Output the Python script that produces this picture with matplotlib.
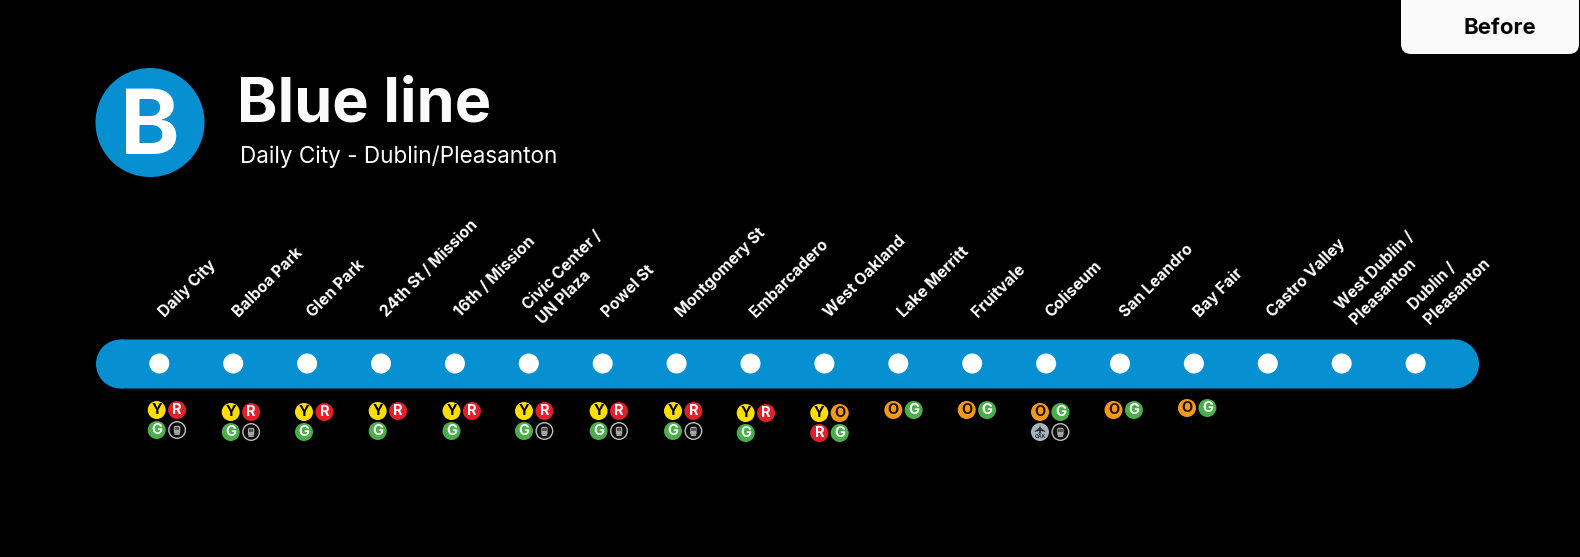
import matplotlib
matplotlib.use("Agg")
import matplotlib.pyplot as plt
from matplotlib.patches import Circle, FancyBboxPatch, Polygon, Rectangle

W, H = 1580, 557
FONT = ["Inter", "Roboto", "DejaVu Sans"]
plt.rcParams["font.family"] = FONT

# ---- content ----
TITLE = "Blue line"
SUBTITLE = "Daily City - Dublin/Pleasanton"
LINE_LETTER = "B"
BUTTON = "Before"
stations = ["Daily City", "Balboa Park", "Glen Park", "24th St / Mission", "16th / Mission",
            "Civic Center /\nUN Plaza", "Powel St", "Montgomery St", "Embarcadero", "West Oakland",
            "Lake Merritt", "Fruitvale", "Coliseum", "San Leandro", "Bay Fair", "Castro Valley",
            "West Dublin /\nPleasanton", "Dublin /\nPleasanton"]
services = [["Y", "R", "G", "train"], ["Y", "R", "G", "train"], ["Y", "R", "G"], ["Y", "R", "G"],
            ["Y", "R", "G"], ["Y", "R", "G", "train"], ["Y", "R", "G", "train"], ["Y", "R", "G", "train"],
            ["Y", "R", "G"], ["Y", "O", "R", "G"], ["O", "G"], ["O", "G"], ["O", "G", "plane", "train"],
            ["O", "G"], ["O", "G"], [], [], []]

# ---- layout (pixels) ----
BLUE = "#0690D2"
STATION_X0, STATION_DX, LINE_Y = 159.3, 73.9, 363.5
badge_dx = [-2.6, -2.5, -3.1, -3.3, -3.4, -4.8, -4.1, -3.6, -4.8, -5.1, -5, -5.5, -6.1, -6.5, -6.9, 0, 0, 0]
badge_y = [410, 412, 412, 411, 411, 411, 411, 411, 413, 413, 410, 410, 412, 410, 408, 0, 0, 0]
BADGE_COLORS = {"Y": ("#FFDD00", "#000000"), "R": ("#E2202C", "#FFFFFF"),
                "G": ("#4BAE4A", "#FFFFFF"), "O": ("#F3981C", "#1A1000")}

fig = plt.figure(figsize=(W / 100, H / 100), dpi=100, facecolor="black")
ax = fig.add_axes([0, 0, 1, 1])
ax.set_xlim(0, W)
ax.set_ylim(H, 0)
ax.axis("off")


def train_icon(cx, cy, color):
    ax.add_patch(FancyBboxPatch((cx - 3.2, cy - 4.2), 6.4, 8, boxstyle="round,pad=0,rounding_size=1.5",
                                fc=color, ec="none", zorder=5))
    ax.add_patch(Rectangle((cx - 2.2, cy - 2.8), 4.4, 2.8, fc="#555555", ec="none", zorder=6))
    ax.add_patch(Polygon([(cx - 3, cy + 5), (cx + 3, cy + 5), (cx + 2, cy + 3.6), (cx - 2, cy + 3.6)],
                         fc=color, ec="none", zorder=5))


def plane_icon(cx, cy):
    d = "#2A2F33"
    ax.add_patch(Polygon([(cx, cy - 6.5), (cx + 1, cy - 4), (cx + 5.2, cy - 1), (cx + 5.2, cy), (cx + 1, cy - 1.2),
                          (cx + 0.8, cy + 0.5), (cx + 2, cy + 1.5), (cx - 2, cy + 1.5), (cx - 0.8, cy + 0.5),
                          (cx - 1, cy - 1.2), (cx - 5.2, cy), (cx - 5.2, cy - 1), (cx - 1, cy - 4)],
                         fc=d, ec="none", zorder=5))
    ax.text(cx, cy + 4.6, "OAK", color=d, fontsize=3.6, fontweight="bold", ha="center", va="center", zorder=6)


def badge(cx, cy, kind):
    r = 9
    if kind == "train":
        ax.add_patch(Circle((cx, cy), r - 0.7, fc="#0C0C0C", ec="#BDBDBD", lw=1.0, zorder=4))
        train_icon(cx, cy, "#A6A6A6")
    elif kind == "plane":
        ax.add_patch(Circle((cx, cy), r, fc="#A9B3BA", ec="none", zorder=4))
        plane_icon(cx, cy)
    else:
        fc, tc = BADGE_COLORS[kind]
        ax.add_patch(Circle((cx, cy), r, fc=fc, ec="none", zorder=4))
        ax.text(cx, cy + 0.3, kind, color=tc, fontsize=10.5, fontweight="bold", ha="center", va="center", zorder=5)


# header
ax.add_patch(Circle((150, 122.5), 54.5, fc=BLUE, ec="none"))
ax.text(150, 121.5, LINE_LETTER, color="white", fontsize=65, fontweight="bold", ha="center", va="center_baseline")
ax.text(237, 122, TITLE, color="#FAFAFA", fontsize=44.2, fontweight="bold", ha="left", va="baseline")
ax.text(239.5, 163, SUBTITLE, color="#FAFAFA", fontsize=16.2, ha="left", va="baseline")

# button
ax.add_patch(FancyBboxPatch((1401, -20), 178, 74, boxstyle="round,pad=0,rounding_size=10",
                            fc="#FAFAFA", ec="none"))
ax.text(1500, 26.5, BUTTON, color="#050505", fontsize=16, fontweight="bold", ha="center", va="center_baseline")

# line band: straight body with two round ends
BAND_L, BAND_R, BAND_T, BAND_B = 96, 1479, 339.5, 388.5
band_r = (BAND_B - BAND_T) / 2
body = Rectangle((BAND_L + band_r, BAND_T), BAND_R - BAND_L - 2 * band_r, BAND_B - BAND_T, fc=BLUE, ec="none")
body.set_snap(False)
ax.add_patch(body)
ax.add_patch(Circle((BAND_L + band_r, (BAND_T + BAND_B) / 2), band_r, fc=BLUE, ec="none"))
ax.add_patch(Circle((BAND_R - band_r, (BAND_T + BAND_B) / 2), band_r, fc=BLUE, ec="none"))

for i, (name, svc) in enumerate(zip(stations, services)):
    x = STATION_X0 + i * STATION_DX
    ax.add_patch(Circle((x, LINE_Y), 10, fc="white", ec="none", zorder=3))
    two = "\n" in name
    ax.text(x + (10 if two else 5.5), 321 if two else 318, name, color="white", fontsize=11.35, fontweight="bold",
            rotation=45, rotation_mode="anchor", ha="left", va="baseline", linespacing=1.5, multialignment="left")
    for j, kind in enumerate(svc):
        badge(x + badge_dx[i] + (j % 2) * 20.4, badge_y[i] + (j // 2) * 20, kind)

fig.savefig("out.png", dpi=100, facecolor="black")
